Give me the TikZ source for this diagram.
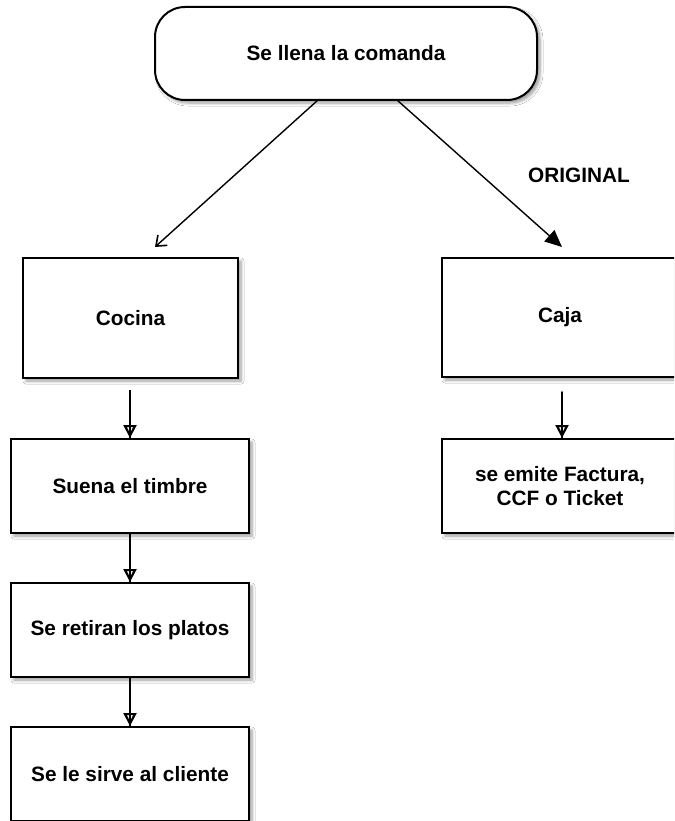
\documentclass[tikz,border=0pt]{standalone}
\usepackage{fontspec}
\setmainfont{Liberation Sans}
\usetikzlibrary{arrows.meta,shadows.blur}
\begin{document}
\begin{tikzpicture}[x=1pt,y=-1pt,
  every node/.style={font=\fontsize{20.8}{24}\selectfont\bfseries, align=center},
  shad/.style={blur shadow={shadow xshift=3pt, shadow yshift=-3pt, shadow blur steps=6, shadow blur radius=3pt, shadow opacity=40}},
  box/.style={draw=black, line width=2pt, fill=white, inner sep=0pt, shad},
  term/.style={box, rounded corners=30pt},
  conn/.style={draw=black, line width=1.4pt},
  vconn/.style={conn, -{Triangle[open, length=13pt, width=13pt, line width=2.2pt]}},
  lbl/.style={inner sep=0pt}
]
\useasboundingbox (0,0) rectangle (674,821);
\clip (0,0) rectangle (674,821);
\fill[white] (0,0) rectangle (674,821);

\node[term, minimum width=382pt, minimum height=93pt] (comanda) at (346,53.5) {Se llena la comanda};

\node[box, minimum width=215pt, minimum height=120pt] (cocina) at (130.5,318) {Cocina};
\node[box, minimum width=236pt, minimum height=119pt] (caja) at (560,317.5) {Caja};

\node[box, minimum width=238pt, minimum height=94pt] (suena) at (130,486) {Suena el timbre};
\node[box, minimum width=238pt, minimum height=94pt] (retiran) at (130,630) {Se retiran los platos};
\node[box, minimum width=238pt, minimum height=94pt] (sirve) at (130,774) {Se le sirve al cliente};

\node[box, minimum width=236pt, minimum height=94pt] (emite) at (560,486) {se emite Factura,\\CCF o Ticket};

\node[lbl] (original) at (579,175) {ORIGINAL};

% diagonal connectors
\coordinate (c1s) at (318,100);
\coordinate (c1e) at (155,247);
\coordinate (c2s) at (397,100);
\coordinate (c2e) at (562,247);
\draw[conn, -{Straight Barb[length=9pt, width=14pt, line width=1.6pt]}] (c1s) -- (c1e);
\draw[conn, -{Triangle[length=17pt, width=15pt]}] (c2s) -- (c2e);

% vertical connectors
\coordinate (k1) at (130,390);
\draw[conn] (k1) -- (suena.north);
\draw[vconn] (k1) -- (suena.north);
\draw[conn] (suena.south) -- (retiran.north);
\draw[vconn] (suena.south) -- (retiran.north);
\draw[conn] (retiran.south) -- (sirve.north);
\draw[vconn] (retiran.south) -- (sirve.north);

\coordinate (k2) at (562,392);
\fill[gray] (k2) circle (1.4pt);
\draw[conn] (k2) -- (emite.north -| k2);
\draw[vconn] (k2) -- (emite.north -| k2);
\end{tikzpicture}
\end{document}
